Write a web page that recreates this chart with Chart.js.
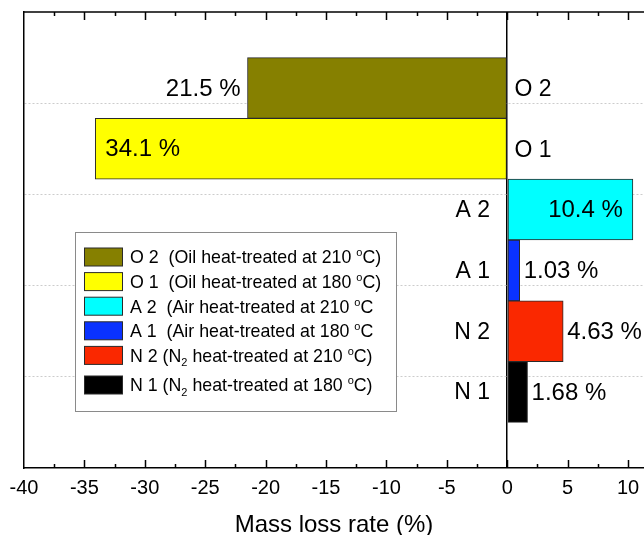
<!DOCTYPE html>
<html>
<head>
<meta charset="utf-8">
<script src="https://cdn.jsdelivr.net/npm/chart.js@4"></script>
<style>
  html, body { margin: 0; padding: 0; background: #ffffff; }
  canvas { display: block; }
</style>
</head>
<body>
<canvas id="chart" width="644" height="535"></canvas>
<script>
// Sample groups, top to bottom
const categories = ['O 2', 'O 1', 'A 2', 'A 1', 'N 2', 'N 1'];
// Mass loss rate (%) — oil-treated groups plotted to the left of zero
const massLoss = [-21.5, -34.1, 10.4, 1.03, 4.63, 1.68];
const barColors = ['#868000', '#FFFF00', '#00FFFF', '#0A32FF', '#FA2800', '#000000'];
// Legend entries (₂ = subscript, ° = superscript o)
const legendLabels = [
  'O 2  (Oil heat-treated at 210 °C)',
  'O 1  (Oil heat-treated at 180 °C)',
  'A 2  (Air heat-treated at 210 °C',
  'A 1  (Air heat-treated at 180 °C',
  'N 2 (N₂ heat-treated at 210 °C)',
  'N 1 (N₂ heat-treated at 180 °C)'
];
const xTickValues = [-40, -35, -30, -25, -20, -15, -10, -5, 0, 5, 10];
const xTitle = 'Mass loss rate (%)';

const valueLabels = massLoss.map(v => Math.abs(v) + ' %');

const FONT = '"Liberation Sans", Arial, Helvetica, sans-serif';
const Y_MIN = -1.25, Y_MAX = 6.25;

// Draws frame ticks, the top border, bar annotations and the boxed legend
const annotate = {
  id: 'annotate',
  afterDatasetsDraw(chart) {
    const ctx = chart.ctx;
    const area = chart.chartArea;
    const xs = chart.scales.x;
    ctx.save();

    // top border
    ctx.strokeStyle = '#000';
    ctx.lineWidth = 1.5;
    ctx.beginPath();
    ctx.moveTo(area.left, area.top);
    ctx.lineTo(area.right, area.top);
    ctx.stroke();

    // inward major/minor ticks on top and bottom
    for (let v = xs.min + 2.5; v <= xs.max; v += 2.5) {
      const px = Math.round(xs.getPixelForValue(v)) + 0.5;
      const len = (Math.abs(v % 5) < 1e-9) ? 8 : 4;
      ctx.beginPath();
      ctx.moveTo(px, area.top);
      ctx.lineTo(px, area.top + len);
      ctx.moveTo(px, area.bottom);
      ctx.lineTo(px, area.bottom - len);
      ctx.stroke();
    }

    // value and group labels
    const meta = chart.getDatasetMeta(0);
    ctx.fillStyle = '#000';
    ctx.textBaseline = 'middle';
    meta.data.forEach((el, i) => {
      const v = massLoss[i];
      const label = valueLabels[i];
      ctx.font = '24px ' + FONT;
      const w = ctx.measureText(label).width;
      const cy = el.y + 1;
      if (v < 0) {
        if (el.x - 7 - w >= area.left + 4) {
          ctx.textAlign = 'right';
          ctx.fillText(label, el.x - 7, cy);
        } else {
          ctx.textAlign = 'left';
          ctx.fillText(label, el.x + 10, cy);
        }
      } else {
        if (el.x + 4 + w <= chart.width) {
          ctx.textAlign = 'left';
          ctx.fillText(label, el.x + 4, cy);
        } else {
          ctx.textAlign = 'right';
          ctx.fillText(label, el.x - 10, cy);
        }
      }
      ctx.font = '23px ' + FONT;
      if (v < 0) {
        ctx.textAlign = 'left';
        ctx.fillText(categories[i], el.base + 8, cy + 1);
      } else {
        ctx.textAlign = 'right';
        ctx.fillText(categories[i], el.base - 18, cy);
      }
    });

    // legend box
    const box = { x: 75.5, y: 232.5, w: 321, h: 179 };
    ctx.fillStyle = '#fff';
    ctx.fillRect(box.x, box.y, box.w, box.h);
    ctx.strokeStyle = '#8a8a8a';
    ctx.lineWidth = 1;
    ctx.strokeRect(box.x, box.y, box.w, box.h);

    const size = 17.8;
    let rowY = 257;
    legendLabels.forEach((txt, i) => {
      ctx.fillStyle = barColors[i];
      ctx.fillRect(84.5, rowY - 9, 38, 18);
      ctx.strokeStyle = '#2a2a2a';
      ctx.strokeRect(84.5, rowY - 9, 38, 18);
      drawRich(ctx, txt, 130, rowY + 6.3, size);
      rowY += 24.6 + (txt.includes('₂') ? 5 : 0);
    });

    ctx.restore();
  }
};

function drawRich(ctx, str, x, baseline, size) {
  ctx.fillStyle = '#000';
  ctx.textAlign = 'left';
  ctx.textBaseline = 'alphabetic';
  const parts = str.split(/([₂°])/);
  parts.forEach(p => {
    if (!p) return;
    if (p === '₂') {
      ctx.font = (size * 0.62) + 'px ' + FONT;
      ctx.fillText('2', x, baseline + 4.5);
      x += ctx.measureText('2').width;
    } else if (p === '°') {
      ctx.font = (size * 0.62) + 'px ' + FONT;
      ctx.fillText('o', x, baseline - 7);
      x += ctx.measureText('o').width;
    } else {
      ctx.font = size + 'px ' + FONT;
      ctx.fillText(p, x, baseline);
      x += ctx.measureText(p).width;
    }
  });
}

new Chart(document.getElementById('chart'), {
  type: 'bar',
  data: {
    datasets: [{
      data: massLoss.map((v, i) => ({ x: v, y: i })),
      backgroundColor: barColors,
      borderColor: '#2a2a2a',
      borderWidth: 1,
      borderSkipped: false,
      categoryPercentage: 1,
      barPercentage: 1
    }]
  },
  options: {
    indexAxis: 'y',
    responsive: false,
    devicePixelRatio: 1,
    animation: false,
    layout: { padding: { left: 24, top: 12, right: 0, bottom: 0 } },
    plugins: {
      legend: { display: false },
      tooltip: { enabled: false }
    },
    scales: {
      x: {
        type: 'linear',
        position: 'bottom',
        min: -40,
        max: 11.32,
        afterBuildTicks: s => { s.ticks = xTickValues.map(v => ({ value: v })); },
        // plot runs flush to the right edge of the canvas
        afterFit: s => { s.paddingRight = 0; },
        ticks: {
          color: '#000',
          padding: 8,
          font: { family: FONT, size: 20 },
          callback: v => String(v)
        },
        grid: {
          drawTicks: false,
          color: c => (c.tick && c.tick.value === 0) ? '#000' : 'rgba(0,0,0,0)',
          lineWidth: 1.5
        },
        border: { display: true, color: '#000', width: 1.5 },
        title: {
          display: true,
          text: xTitle,
          color: '#000',
          font: { family: FONT, size: 24, lineHeight: 1 },
          padding: { top: 5, bottom: -2 }
        }
      },
      y: {
        type: 'linear',
        reverse: true,
        offset: false,
        min: Y_MIN,
        max: Y_MAX,
        afterBuildTicks: s => {
          const step = (Y_MAX - Y_MIN) / 5;
          s.ticks = [0, 1, 2, 3, 4, 5].map(k => ({ value: Y_MIN + k * step }));
        },
        ticks: { display: false },
        grid: {
          offset: false,
          drawTicks: false,
          color: c => (c.tick && (c.tick.value === Y_MIN || c.tick.value === Y_MAX)) ? 'rgba(0,0,0,0)' : '#cccccc',
          lineWidth: 1
        },
        border: { display: true, color: '#000', width: 1.5, dash: [2, 2] }
      }
    }
  },
  plugins: [annotate]
});
</script>
</body>
</html>
